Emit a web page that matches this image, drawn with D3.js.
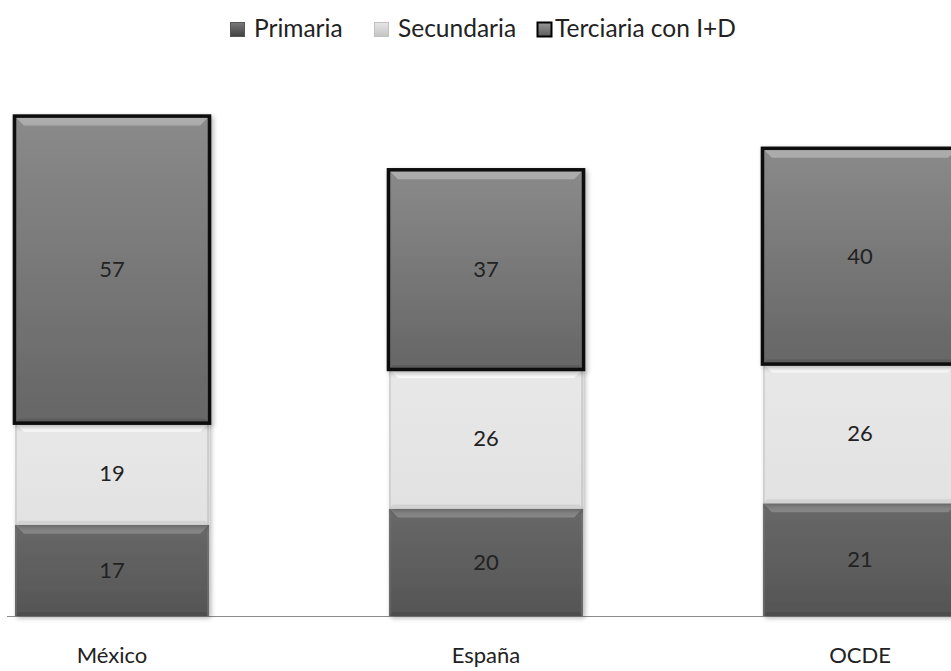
<!DOCTYPE html>
<html><head><meta charset="utf-8">
<script src="https://cdn.jsdelivr.net/npm/d3@7"></script>
<style>body{margin:0;background:#fff}svg{display:block}text{font-family:Lato,"Open Sans",sans-serif}</style>
</head><body>
<svg id="c" width="951" height="671"></svg>
<script>
const categories = ["México", "España", "OCDE"];
const seriesNames = ["Primaria", "Secundaria", "Terciaria con I+D"];
const primaria = [17, 20, 21];
const secundaria = [19, 26, 26];
const terciaria = [57, 37, 40];

const svg = d3.select("#c");
const W = 951, H = 671;
const base = 616;
const x = d3.scaleBand().domain(categories).range([-75, 1047]).paddingInner(0.481).paddingOuter(0.2405);
const y = d3.scaleLinear().domain([0, 100]).range([base, 79]);

const defs = svg.append("defs");
const grads = [
  {id: "gP", c: ["#686868", "#555555"]},
  {id: "gS", c: ["#e8e8e8", "#e2e2e2"]},
  {id: "gT", c: ["#8a8a8a", "#666666"]},
  {id: "lP", c: ["#7a7a7a", "#404040"]},
  {id: "lS", c: ["#e6e6e6", "#c4c4c4"]},
  {id: "lT", c: ["#9a9a9a", "#5a5a5a"]}
];
grads.forEach(g => {
  const lg = defs.append("linearGradient").attr("id", g.id).attr("x1", 0).attr("y1", 0).attr("x2", 0).attr("y2", 1);
  lg.append("stop").attr("offset", "0%").attr("stop-color", g.c[0]);
  lg.append("stop").attr("offset", "100%").attr("stop-color", g.c[1]);
});
const sh = defs.append("filter").attr("id", "sh").attr("x", "-10%").attr("y", "-10%").attr("width", "130%").attr("height", "130%");
sh.append("feGaussianBlur").attr("in", "SourceAlpha").attr("stdDeviation", 2.5).attr("result", "b");
sh.append("feOffset").attr("in", "b").attr("dx", 2).attr("dy", 2).attr("result", "o");
sh.append("feComponentTransfer").attr("in", "o").attr("result", "o2").append("feFuncA").attr("type", "linear").attr("slope", 0.3);
const mg = sh.append("feMerge");
mg.append("feMergeNode").attr("in", "o2");
mg.append("feMergeNode").attr("in", "SourceGraphic");

svg.append("line").attr("x1", 7).attr("x2", W).attr("y1", base + 0.5).attr("y2", base + 0.5)
  .attr("stroke", "#8c8c8c").attr("stroke-width", 1);

const segs = [];
categories.forEach((c, i) => {
  const vals = [primaria[i], secundaria[i], terciaria[i]];
  let acc = 0;
  vals.forEach((v, k) => {
    segs.push({cat: c, k, v, y0: acc, y1: acc + v});
    acc += v;
  });
});

const styles = [
  {fill: "url(#gP)", hi: "#8e8e8e", lo: "#4a4a4a", side: "#777"},
  {fill: "url(#gS)", hi: "#ffffff", lo: "#c8c8c8", side: "#bdbdbd"},
  {fill: "url(#gT)", hi: "#b4b4b4", lo: "#555555", side: "#777"}
];

const g = svg.append("g");
segs.forEach(s => {
  const st = styles[s.k];
  const x0 = x(s.cat), w = x.bandwidth();
  const yt = y(s.y1), yb = y(s.y0);
  const gg = g.append("g").attr("filter", "url(#sh)");
  gg.append("rect").attr("x", x0).attr("y", yt).attr("width", w).attr("height", yb - yt).attr("fill", st.fill);
  const bv = 9;
  gg.append("path").attr("d", `M${x0},${yt}L${x0 + w},${yt}L${x0 + w - bv},${yt + bv}L${x0 + bv},${yt + bv}Z`)
    .attr("fill", st.hi).attr("opacity", 0.8);
  gg.append("path").attr("d", `M${x0},${yb}L${x0 + w},${yb}L${x0 + w - 4},${yb - 4}L${x0 + 4},${yb - 4}Z`)
    .attr("fill", st.lo).attr("opacity", 0.6);
  gg.append("rect").attr("x", x0).attr("y", yt).attr("width", 2).attr("height", yb - yt).attr("fill", st.side).attr("opacity", 0.5);
  gg.append("rect").attr("x", x0 + w - 2).attr("y", yt).attr("width", 2).attr("height", yb - yt).attr("fill", st.side).attr("opacity", 0.6);
  if (s.k === 2) {
    gg.append("rect").attr("x", x0 - 0.5).attr("y", yt - 0.5).attr("width", w + 1).attr("height", yb - yt + 1)
      .attr("fill", "none").attr("stroke", "#0a0a0a").attr("stroke-width", 3.5);
  }
  g.append("text").attr("x", x0 + w / 2).attr("y", (yt + yb) / 2).attr("dy", "0.35em")
    .attr("text-anchor", "middle").attr("font-size", 22).attr("fill", "#222").text(s.v);
});

categories.forEach(c => {
  svg.append("text").attr("x", x(c) + x.bandwidth() / 2).attr("y", 655).attr("dy", "0.35em")
    .attr("text-anchor", "middle").attr("font-size", 22).attr("fill", "#222").text(c);
});

const legX = [230, 374, 537];
const legTextX = [254, 398, 555];
const legFill = ["url(#lP)", "url(#lS)", "url(#lT)"];
const legStroke = ["#555", "#c0c0c0", "#000"];
seriesNames.forEach((n, i) => {
  const lx = legX[i];
  svg.append("rect").attr("x", lx + 0.5).attr("y", 22.5).attr("width", 14).attr("height", 14)
    .attr("fill", legFill[i]).attr("stroke", legStroke[i]).attr("stroke-width", i === 2 ? 2 : 1);
  svg.append("text").attr("x", legTextX[i]).attr("y", 28).attr("dy", "0.35em")
    .attr("font-size", 24.5).attr("fill", "#222").text(n);
});
</script>
</body></html>
